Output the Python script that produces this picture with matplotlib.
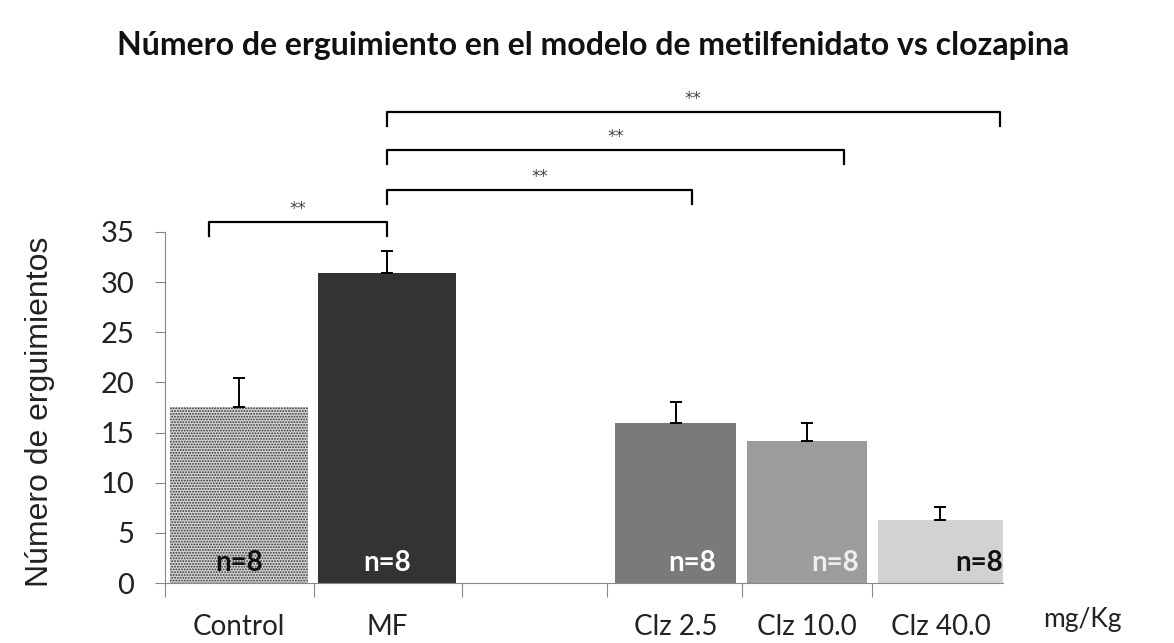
import numpy as np
import matplotlib
matplotlib.use('Agg')
import matplotlib.pyplot as plt

groups = ['Control', 'MF', 'Clz 2.5', 'Clz 10.0', 'Clz 40.0']
means = [17.5, 30.9, 16.0, 14.2, 6.3]
errors = [2.9, 2.2, 2.0, 1.8, 1.3]
n_labels = ['n=8', 'n=8', 'n=8', 'n=8', 'n=8']
# significance comparisons: (start, end, label)
comparisons = [('Control', 'MF', '**'), ('MF', 'Clz 2.5', '**'),
               ('MF', 'Clz 10.0', '**'), ('MF', 'Clz 40.0', '**')]

# layout (slot units)
xpos = [0, 1, 2.95, 3.84, 4.74]
widths = [0.93, 0.93, 0.82, 0.81, 0.85]
npos = [0, 1, 3.06, 4.03, 5.0]
colors = ['#d4d4d4', '#333333', '#7a7a7a', '#9c9c9c', '#d2d2d2']
ncolors = ['#111111', 'white', 'white', '#eeeeee', '#111111']
br_x = {'Control': -0.2, 'MF': 1.0, 'Clz 2.5': 3.06, 'Clz 10.0': 4.09, 'Clz 40.0': 5.14}
br_y = [36.0, 39.2, 43.2, 47.0]

plt.rcParams['hatch.linewidth'] = 0.9
fig = plt.figure(figsize=(11.74, 6.43), dpi=100)
ax = fig.add_axes([0.1405, 0.0933, 0.7135, 0.78])

bars = ax.bar(xpos, means, width=widths, color=colors, edgecolor='none', zorder=2)
bars[0].set_hatch('......')
bars[0].set_edgecolor('#333333')
bars[0].set_linewidth(0)

ax.errorbar(xpos, means, yerr=[np.zeros(len(errors)), errors], fmt='none',
            ecolor='black', elinewidth=1.4, capsize=4, capthick=1.4, zorder=3)

for x, t, c in zip(npos, n_labels, ncolors):
    ax.text(x, 2.0, t, ha='center', va='center', fontsize=20, fontweight='bold',
            color=c, family='Lato', zorder=4)

for (a, b, s), y in zip(comparisons, br_y):
    x1, x2 = br_x[a], br_x[b]
    ax.plot([x1, x1, x2, x2], [y - 1.4, y, y, y - 1.4], color='black', lw=1.6,
            clip_on=False, zorder=3)
    ax.text((x1 + x2) / 2, y + 0.4, s, ha='center', va='bottom', fontsize=12,
            color='#444444')

ax.set_xlim(-0.5, 5.16)
ax.set_ylim(0, 50)
ax.spines['top'].set_visible(False)
ax.spines['right'].set_visible(False)
ax.spines['left'].set_bounds(0, 35)
ax.spines['left'].set_color('#888888')
ax.spines['bottom'].set_color('#888888')

ax.set_yticks(range(0, 36, 5))
ax.set_yticklabels([str(v) for v in range(0, 36, 5)], fontsize=21, family='Lato',
                   color='#222222')
ax.tick_params(axis='y', length=7, color='#888888', pad=15)

ax.set_xticks([-0.5, 0.51, 1.51, 2.49, 3.4, 4.28])
ax.set_xticklabels([])
ax.tick_params(axis='x', length=10, color='#888888')
for x, g in zip(xpos, groups):
    ax.text(x, -3.1, g, ha='center', va='top', fontsize=20, family='Lato',
            color='#222222')
ax.text(5.7, -2.4, 'mg/Kg', ha='center', va='top', fontsize=19, family='Lato',
        color='#222222', clip_on=False)

fig.text(0.034, 0.36, 'Número de erguimientos', rotation=90, ha='center',
         va='center', fontsize=23, family='Liberation Sans', color='#222222')
fig.text(0.505, 0.93, 'Número de erguimiento en el modelo de metilfenidato vs clozapina',
         ha='center', va='center', fontsize=23, fontweight='bold', family='Lato',
         color='#111111')

fig.savefig('out.png', dpi=100)
